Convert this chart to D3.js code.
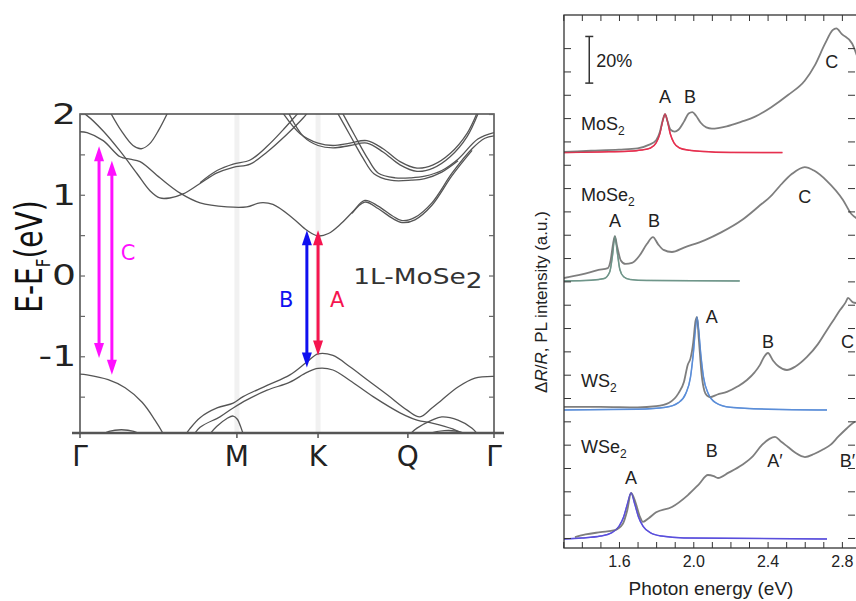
<!DOCTYPE html>
<html><head><meta charset="utf-8">
<script src="https://cdn.jsdelivr.net/npm/d3@7"></script>
<style>body{margin:0;background:#fff}svg{display:block}</style>
</head><body>
<svg id="c" width="856" height="601"></svg>
<script>
// ---------------- LEFT PANEL DATA (band structure of 1L-MoSe2) ----------------
const kPoints = ["Γ","M","K","Q","Γ"];
const kPos = [0, 0.379, 0.575, 0.792, 1.0];
const eTicks = [2, 1, 0, -1];
const eMinorTicks = [-1.5,-1,-0.5,0,0.5,1,1.5,2];
// conduction bands
const cb1 = [[0,1.78],[0.017,1.77],[0.056,1.67],[0.097,1.47],[0.121,1.44],[0.145,1.41],[0.193,1.21],[0.242,1.02],[0.290,0.90],[0.355,0.85],[0.403,0.85],[0.435,0.90],[0.466,0.88],[0.514,0.71],[0.548,0.56],[0.575,0.49],[0.60,0.52],[0.630,0.64],[0.657,0.78],[0.688,0.93],[0.720,0.86],[0.754,0.74],[0.778,0.68],[0.809,0.72],[0.850,0.90],[0.899,1.27],[0.947,1.57],[0.978,1.70],[1.0,1.73]];
const cb1b = [[0.657,0.77],[0.688,0.91],[0.720,0.83],[0.754,0.71],[0.778,0.655],[0.809,0.69],[0.850,0.87],[0.899,1.24],[0.947,1.55]];
const cb2 = [[0,2.03],[0.017,1.98],[0.056,1.79],[0.097,1.54],[0.138,1.26],[0.169,1.05],[0.193,0.96],[0.217,0.96],[0.249,1.01],[0.290,1.14],[0.331,1.27],[0.370,1.34],[0.411,1.38],[0.452,1.53],[0.500,1.75],[0.539,1.95],[0.555,2.05]];
const cb2b = [[0.290,1.15],[0.331,1.30],[0.370,1.38],[0.411,1.43],[0.452,1.60],[0.490,1.80],[0.525,2.0],[0.535,2.05]];
const cbU = [[0.070,2.05],[0.10,1.79],[0.128,1.61],[0.148,1.57],[0.168,1.63],[0.19,1.80],[0.215,2.05]];
const cbK1 = [[0.485,2.05],[0.531,1.76],[0.575,1.64],[0.611,1.61],[0.652,1.64],[0.693,1.67],[0.732,1.57],[0.773,1.41],[0.814,1.33],[0.853,1.37],[0.894,1.51],[0.935,1.76],[0.962,2.05]];
const cbK1b = [[0.50,2.05],[0.540,1.72],[0.575,1.61],[0.611,1.58],[0.652,1.61],[0.693,1.64],[0.732,1.53],[0.773,1.37],[0.814,1.29],[0.853,1.33],[0.894,1.47],[0.935,1.72],[0.965,2.05]];
const cbK2 = [[0.630,2.05],[0.664,1.73],[0.696,1.44],[0.720,1.27],[0.761,1.21],[0.800,1.21],[0.833,1.23],[0.874,1.30],[0.913,1.44],[0.961,1.69],[1.0,1.77]];
const cbK2b = [[0.618,2.05],[0.652,1.74],[0.684,1.45],[0.710,1.26],[0.750,1.18],[0.800,1.18],[0.833,1.20],[0.874,1.28],[0.913,1.42]];
// valence bands
const vbG = [[0,-1.22],[0.017,-1.23],[0.068,-1.29],[0.109,-1.39],[0.150,-1.57],[0.181,-1.79],[0.200,-1.95],[0.21,-2.05]];
const vbK1 = [[0.245,-2.05],[0.265,-1.90],[0.29,-1.76],[0.331,-1.64],[0.370,-1.58],[0.394,-1.50],[0.452,-1.36],[0.507,-1.23],[0.548,-1.07],[0.575,-0.97],[0.611,-0.99],[0.652,-1.13],[0.696,-1.30],[0.743,-1.48],[0.791,-1.67],[0.821,-1.75],[0.85,-1.64],[0.874,-1.54],[0.913,-1.38],[0.954,-1.27],[1.0,-1.25]];
const vbK2 = [[0.265,-2.05],[0.29,-1.88],[0.338,-1.75],[0.370,-1.64],[0.403,-1.54],[0.452,-1.42],[0.507,-1.32],[0.548,-1.20],[0.575,-1.15],[0.611,-1.17],[0.652,-1.30],[0.708,-1.50],[0.773,-1.70],[0.814,-1.79],[0.853,-1.83],[0.90,-1.90],[0.94,-2.0]];
const vbDomeM = [[0.30,-2.05],[0.33,-1.87],[0.355,-1.77],[0.37,-1.74],[0.38,-1.78],[0.39,-1.9],[0.40,-2.05]];
const vbDomeQ1 = [[0.79,-2.0],[0.814,-1.89],[0.85,-1.79],[0.874,-1.75],[0.913,-1.79],[0.947,-1.89],[0.961,-1.97]];
const vbDomeQ2 = [[0.80,-2.05],[0.84,-1.96],[0.88,-1.92],[0.92,-1.94],[0.95,-2.05]];
const vbDomeG = [[0.04,-2.0],[0.07,-1.93],[0.10,-1.91],[0.13,-1.93],[0.16,-2.0]];
const bands = [cb1,cb1b,cb2,cb2b,cbU,cbK1,cbK1b,cbK2,cbK2b,vbG,vbK1,vbK2,vbDomeM,vbDomeQ1,vbDomeQ2,vbDomeG];
// transitions: [k, E top, E bottom, label]
const transitions = [[0.046,1.60,-1.02,"C"],[0.077,1.42,-1.23,"C"],[0.548,0.56,-1.14,"B"],[0.575,0.56,-0.99,"A"]];

// ---------------- RIGHT PANEL DATA (reflectance contrast / PL spectra) ----------------
const energyTicks = [1.3,1.4,1.5,1.6,1.7,1.8,1.9,2.0,2.1,2.2,2.3,2.4,2.5,2.6,2.7,2.8];
const energyLabels = [1.6,2.0,2.4,2.8];
const mos2Refl = [[1.30,16.55],[1.45,16.6],[1.60,16.65],[1.70,16.7],[1.76,16.85],[1.80,17.05],[1.82,17.4],[1.835,17.9],[1.848,18.17],[1.862,17.85],[1.878,17.5],[1.90,17.42],[1.92,17.5],[1.95,17.85],[1.975,18.2],[1.995,18.26],[2.015,18.1],[2.04,17.8],[2.07,17.6],[2.10,17.55],[2.18,17.65],[2.26,17.85],[2.33,18.05],[2.42,18.47],[2.51,18.99],[2.60,19.6],[2.655,20.27],[2.71,21.2],[2.75,21.77],[2.77,21.85],[2.80,21.6],[2.855,21.2],[2.88,20.7]];
const mos2PL = [[1.30,16.52],[1.50,16.55],[1.65,16.58],[1.72,16.63],[1.77,16.72],[1.80,16.94],[1.82,17.33],[1.835,17.86],[1.848,18.17],[1.861,17.86],[1.876,17.33],[1.896,16.94],[1.926,16.72],[1.98,16.62],[2.05,16.57],[2.2,16.53],[2.48,16.52]];
const mose2Refl = [[1.30,11.14],[1.40,11.3],[1.49,11.49],[1.54,11.57],[1.555,11.9],[1.568,12.6],[1.578,12.94],[1.59,12.5],[1.61,11.9],[1.635,11.75],[1.67,11.79],[1.71,12.1],[1.75,12.6],[1.783,12.9],[1.81,12.6],[1.84,12.35],[1.885,12.26],[1.95,12.45],[2.063,12.77],[2.15,13.1],[2.262,13.63],[2.35,14.2],[2.423,14.70],[2.467,15.1],[2.53,15.6],[2.60,15.9],[2.65,15.75],[2.72,15.3],[2.806,14.49],[2.85,13.9],[2.88,13.7]];
const mose2PL = [[1.30,11.02],[1.45,11.05],[1.52,11.12],[1.55,11.4],[1.565,12.1],[1.578,12.94],[1.59,12.3],[1.605,11.5],[1.625,11.2],[1.66,11.08],[1.75,11.04],[2.25,11.02]];
const ws2Refl = [[1.30,5.62],[1.50,5.62],[1.70,5.6],[1.80,5.65],[1.87,5.8],[1.92,6.2],[1.95,6.7],[1.97,7.42],[1.985,7.7],[2.0,8.4],[2.012,9.3],[2.02,9.47],[2.03,8.5],[2.045,7.0],[2.06,6.3],[2.074,6.1],[2.09,6.04],[2.13,6.15],[2.181,6.26],[2.24,6.5],[2.289,6.77],[2.33,7.1],[2.359,7.42],[2.38,7.75],[2.402,7.93],[2.43,7.6],[2.46,7.35],[2.504,7.2],[2.55,7.35],[2.612,7.76],[2.67,8.3],[2.72,8.92],[2.76,9.4],[2.79,9.77],[2.82,10.1],[2.833,10.29],[2.86,10.1],[2.88,10.07]];
const ws2PL = [[1.30,5.49],[1.70,5.52],[1.85,5.6],[1.92,5.8],[1.96,6.2],[1.985,6.9],[2.0,7.9],[2.012,9.0],[2.02,9.47],[2.028,9.0],[2.04,7.9],[2.055,6.9],[2.08,6.2],[2.12,5.8],[2.2,5.6],[2.4,5.52],[2.72,5.49]];
const wse2Refl = [[1.363,0.04],[1.42,0.15],[1.50,0.25],[1.578,0.34],[1.62,0.6],[1.645,1.2],[1.665,1.93],[1.69,1.5],[1.713,0.9],[1.729,0.69],[1.76,0.85],[1.80,1.1],[1.885,1.33],[1.971,1.84],[2.03,2.3],[2.079,2.70],[2.11,2.65],[2.133,2.57],[2.19,2.8],[2.262,3.13],[2.32,3.5],[2.37,3.99],[2.41,4.25],[2.44,4.33],[2.47,4.15],[2.51,3.90],[2.55,3.65],[2.601,3.47],[2.65,3.6],[2.693,3.77],[2.74,4.0],[2.779,4.33],[2.82,4.65],[2.86,4.93],[2.88,5.0]];
const wse2PL = [[1.30,-0.04],[1.40,0.0],[1.50,0.08],[1.56,0.22],[1.60,0.5],[1.625,0.9],[1.645,1.45],[1.665,1.93],[1.685,1.45],[1.705,0.9],[1.73,0.5],[1.77,0.22],[1.83,0.08],[1.95,0.0],[2.72,-0.04]];
const reflSeries = [mos2Refl, mose2Refl, ws2Refl, wse2Refl];
const plSeries = [mos2PL, mose2PL, ws2PL, wse2PL];
const plColors = ["#e5304f", "#6f968a", "#5b8ed8", "#5a4fdc"];
const materials = [["MoS","2",17.5],["MoSe","2",14.45],["WS","2",6.47],["WSe","2",3.64]];
// peak labels: [text, E, level]
const peakLabels = [["A",1.848,18.65],["B",1.982,18.65],["C",2.746,20.15],
  ["A",1.578,13.33],["B",1.788,13.33],["C",2.60,14.36],
  ["A",2.10,9.2],["B",2.402,8.14],["C",2.83,8.14],
  ["A",1.665,2.31],["B",2.10,3.47],["A′",2.44,3.04],["B′",2.83,3.04]];

// ---------------- DRAW ----------------
const svg = d3.select("#c");
svg.append("rect").attr("width",856).attr("height",601).attr("fill","#fff");
const defs = svg.append("defs");

// LEFT PANEL
const L = {x0:80, x1:494, y0:114, y1:433};
const kx = d3.scaleLinear().domain([0,1]).range([L.x0, L.x1]);
const ey = d3.scaleLinear().domain([-1.95,2]).range([L.y1, L.y0]);
defs.append("clipPath").attr("id","clipL").append("rect")
  .attr("x",L.x0).attr("y",L.y0).attr("width",L.x1-L.x0).attr("height",L.y1-L.y0);
const gL = svg.append("g").attr("font-family","DejaVu Sans, sans-serif");

// faint vertical guides at M and K
gL.selectAll("line.vg").data([kPos[1],kPos[2]]).enter().append("line")
  .attr("x1",d=>kx(d)).attr("x2",d=>kx(d)).attr("y1",L.y0).attr("y2",L.y1)
  .attr("stroke","#f1f1f1").attr("stroke-width",5);

const bandLine = d3.line().x(d=>kx(d[0])).y(d=>ey(d[1])).curve(d3.curveCatmullRom.alpha(0.5));
gL.append("g").attr("clip-path","url(#clipL)").selectAll("path").data(bands).enter().append("path")
  .attr("d",bandLine).attr("fill","none").attr("stroke","#555").attr("stroke-width",1.3);

// frame
gL.append("rect").attr("x",L.x0).attr("y",L.y0).attr("width",L.x1-L.x0).attr("height",L.y1-L.y0)
  .attr("fill","none").attr("stroke","#555").attr("stroke-width",1.6);
gL.append("line").attr("x1",L.x0-8).attr("x2",L.x1+10).attr("y1",L.y1).attr("y2",L.y1)
  .attr("stroke","#555").attr("stroke-width",2.5);

// y axes
const yAxL = d3.axisLeft(ey).tickValues(eMinorTicks).tickSize(-5).tickPadding(4)
  .tickFormat(d=> eTicks.includes(d) ? String(d) : "");
const gy = gL.append("g").attr("transform",`translate(${L.x0},0)`).call(yAxL);
gy.select(".domain").remove();
gy.selectAll(".tick line").attr("stroke","#666").attr("stroke-width",1.2);
gy.selectAll(".tick text").attr("font-size",29).attr("fill","#222").attr("font-family","DejaVu Sans, sans-serif")
  .attr("x",-3).attr("transform","scale(1.3,1)");
const gyR = gL.append("g").attr("transform",`translate(${L.x1},0)`)
  .call(d3.axisRight(ey).tickValues(eMinorTicks).tickSize(-5).tickFormat(""));
gyR.select(".domain").remove();
gyR.selectAll(".tick line").attr("stroke","#666").attr("stroke-width",1.2);

// k labels
gL.selectAll("text.kl").data(kPoints).enter().append("text")
  .attr("x",(d,i)=>kx(kPos[i])).attr("y",L.y1+33).attr("text-anchor","middle")
  .attr("font-size",28).attr("fill","#222").text(d=>d);
gL.selectAll("line.kt").data(kPos).enter().append("line")
  .attr("x1",d=>kx(d)).attr("x2",d=>kx(d)).attr("y1",L.y1).attr("y2",L.y1+5)
  .attr("stroke","#555").attr("stroke-width",1.5);

// y label
const yl = gL.append("text").attr("transform",`translate(42,${(L.y0+L.y1)/2-17}) rotate(-90) scale(1,1.3)`)
  .attr("text-anchor","middle").attr("font-size",28).attr("fill","#111");
yl.append("tspan").text("E-E");
yl.append("tspan").attr("font-size",15).attr("dy",6).text("F");
yl.append("tspan").attr("dy",-6).text("(eV)");

// transition arrows
const arrowColors = ["#ff10ff","#ff10ff","#1010f0","#f5154f"];
transitions.forEach((t,i)=>{
  const x = kx(t[0]), yt = ey(t[1]), yb = ey(t[2]), c = arrowColors[i];
  gL.append("line").attr("x1",x).attr("x2",x).attr("y1",yt+10).attr("y2",yb-10)
    .attr("stroke",c).attr("stroke-width",3);
  gL.append("path").attr("d",`M${x},${yt}L${x-5},${yt+15}L${x+5},${yt+15}Z`).attr("fill",c);
  gL.append("path").attr("d",`M${x},${yb}L${x-5},${yb-15}L${x+5},${yb-15}Z`).attr("fill",c);
});
// arrow labels
const arrowLabelPos = [[0.116,0.19,"C","#ff10ff"],[0.498,-0.39,"B","#1010f0"],[0.621,-0.39,"A","#f5154f"]];
gL.selectAll("text.al").data(arrowLabelPos).enter().append("text")
  .attr("x",d=>kx(d[0])).attr("y",d=>ey(d[1])).attr("text-anchor","middle")
  .attr("font-size",21).attr("fill",d=>d[3]).text(d=>d[2]);
// material label
const ml = gL.append("text").attr("transform",`translate(${kx(0.66)},${ey(-0.1)}) scale(1.2,1)`)
  .attr("font-size",22).attr("fill","#333");
ml.append("tspan").text("1L-MoSe");
ml.append("tspan").attr("font-size",22).attr("dy",4).text("2");

// RIGHT PANEL
const R = {x0:564, x1:856, y0:15, y1:548};
const xR = d3.scaleLinear().domain([1.304,2.876]).range([R.x0,R.x1]);
const yR = d3.scaleLinear().domain([-0.43,22.42]).range([R.y1,R.y0]);
defs.append("clipPath").attr("id","clipR").append("rect")
  .attr("x",R.x0).attr("y",R.y0).attr("width",R.x1-R.x0).attr("height",R.y1-R.y0);
const gR = svg.append("g").attr("font-family","Liberation Sans, Arial, sans-serif");
const specLine = d3.line().x(d=>xR(d[0])).y(d=>yR(d[1])).curve(d3.curveMonotoneX);
const gS = gR.append("g").attr("clip-path","url(#clipR)");
plSeries.forEach((s,i)=>{
  gS.append("path").attr("d",specLine(s)).attr("fill","none").attr("stroke",plColors[i]).attr("stroke-width",1.5);
});
reflSeries.forEach((s,i)=>{
  gS.append("path").attr("d",specLine(s)).attr("fill","none").attr("stroke","#707070")
    .attr("stroke-width",1.8).attr("stroke-opacity",0.9);
});
plSeries.forEach((s,i)=>{
  gS.append("path").attr("d",specLine(s)).attr("fill","none").attr("stroke",plColors[i])
    .attr("stroke-width",1.2).attr("stroke-opacity",0.75);
});

// axes
const styleAx = g=>{ g.select(".domain").remove(); g.selectAll(".tick line").attr("stroke","#333").attr("stroke-width",1); };
gR.append("g").attr("transform",`translate(0,${R.y1})`)
  .call(d3.axisBottom(xR).tickValues(energyTicks).tickSize(-6).tickPadding(8)
    .tickFormat(d=> energyLabels.some(v=>Math.abs(v-d)<1e-6) ? d.toFixed(1) : ""))
  .call(styleAx)
  .selectAll(".tick text").attr("font-size",16).attr("fill","#222").attr("font-family","Liberation Sans, Arial, sans-serif");
gR.append("g").attr("transform",`translate(0,${R.y0})`)
  .call(d3.axisTop(xR).tickValues(energyTicks).tickSize(-6).tickFormat("")).call(styleAx);
const vTicks = d3.range(0,22);
gR.append("g").attr("transform",`translate(${R.x0},0)`)
  .call(d3.axisLeft(yR).tickValues(vTicks).tickSize(-7).tickFormat("")).call(styleAx);
gR.append("g").attr("transform",`translate(${R.x1-1},0)`)
  .call(d3.axisRight(yR).tickValues(vTicks).tickSize(-7).tickFormat("")).call(styleAx);
gR.append("rect").attr("x",R.x0).attr("y",R.y0).attr("width",R.x1-R.x0+2).attr("height",R.y1-R.y0)
  .attr("fill","none").attr("stroke","#333").attr("stroke-width",1.3);

// scale bar 20%
const sbE = 1.44;
gR.append("line").attr("x1",xR(sbE)).attr("x2",xR(sbE)).attr("y1",yR(21.5)).attr("y2",yR(19.5)).attr("stroke","#333").attr("stroke-width",1.5);
[21.5,19.5].forEach(v=>gR.append("line").attr("x1",xR(sbE)-4).attr("x2",xR(sbE)+4).attr("y1",yR(v)).attr("y2",yR(v)).attr("stroke","#333").attr("stroke-width",1.5));
gR.append("text").attr("x",xR(sbE)+7).attr("y",yR(20.2)).attr("font-size",18).attr("fill","#222").text("20%");

// material labels
materials.forEach(m=>{
  const t = gR.append("text").attr("x",xR(1.395)).attr("y",yR(m[2])).attr("font-size",18).attr("fill","#222");
  t.append("tspan").text(m[0]);
  t.append("tspan").attr("font-size",12).attr("dy",5).text(m[1]);
});
gR.selectAll("text.pk").data(peakLabels).enter().append("text")
  .attr("x",d=>xR(d[1])).attr("y",d=>yR(d[2])).attr("text-anchor","middle")
  .attr("font-size",18).attr("fill","#222").text(d=>d[0]);

// axis titles
gR.append("text").attr("x",711).attr("y",595).attr("text-anchor","middle")
  .attr("font-size",19).attr("fill","#222").text("Photon energy (eV)");
const yt = gR.append("text").attr("transform",`translate(547,302) rotate(-90)`)
  .attr("text-anchor","middle").attr("font-size",17).attr("fill","#222");
yt.append("tspan").text("Δ");
yt.append("tspan").attr("font-style","italic").text("R");
yt.append("tspan").text("/");
yt.append("tspan").attr("font-style","italic").text("R");
yt.append("tspan").text(", PL intensity (a.u.)");
</script>
</body></html>
